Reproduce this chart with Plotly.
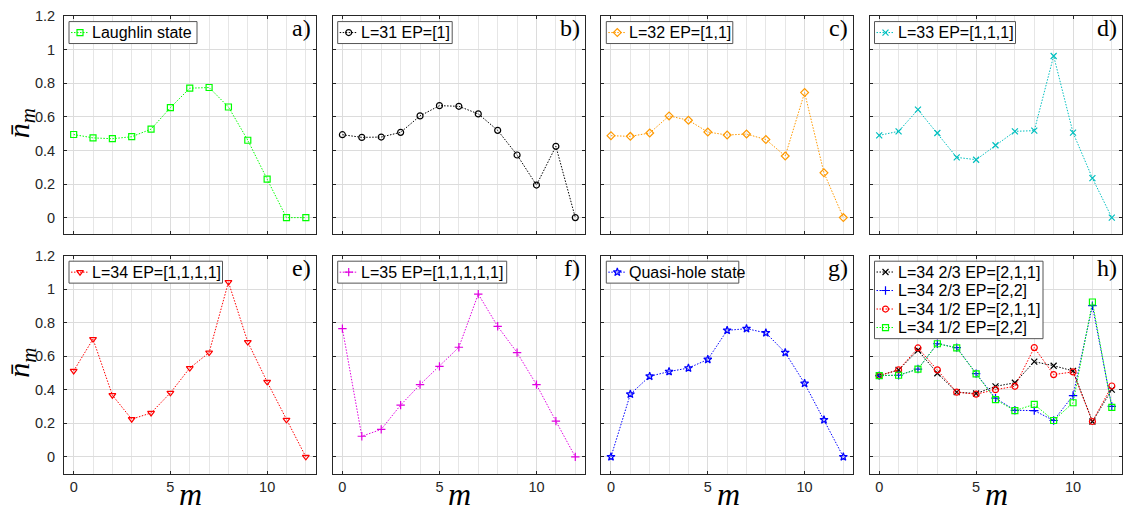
import plotly.graph_objects as go

# orbital index
m = list(range(13))

# mean occupation of each orbital
laughlin = [0.495, 0.475, 0.470, 0.482, 0.527, 0.655, 0.771, 0.775, 0.659, 0.461, 0.229, 0.0, 0.0]
l31_ep1 = [0.494, 0.478, 0.480, 0.508, 0.606, 0.667, 0.663, 0.618, 0.520, 0.373, 0.194, 0.425, 0.0]
l32_ep11 = [0.488, 0.484, 0.504, 0.606, 0.580, 0.510, 0.492, 0.498, 0.465, 0.367, 0.745, 0.267, 0.0]
l33_ep111 = [0.490, 0.514, 0.643, 0.504, 0.359, 0.345, 0.431, 0.514, 0.518, 0.963, 0.506, 0.235, 0.0]
l34_ep1111 = [0.513, 0.703, 0.368, 0.225, 0.262, 0.382, 0.530, 0.622, 1.043, 0.685, 0.448, 0.221, 0.0]
l35_ep11111 = [0.765, 0.123, 0.164, 0.309, 0.431, 0.540, 0.654, 0.971, 0.779, 0.622, 0.431, 0.213, 0.0]
quasi_hole = [0.0, 0.374, 0.481, 0.509, 0.530, 0.581, 0.755, 0.765, 0.740, 0.622, 0.438, 0.221, 0.0]
l34_23_ep211 = [0.485, 0.519, 0.636, 0.499, 0.386, 0.378, 0.421, 0.442, 0.568, 0.544, 0.513, 0.211, 0.401]
l34_23_ep22 = [0.485, 0.487, 0.524, 0.675, 0.652, 0.497, 0.350, 0.278, 0.276, 0.217, 0.366, 0.902, 0.301]
l34_12_ep211 = [0.485, 0.519, 0.650, 0.519, 0.386, 0.374, 0.401, 0.421, 0.652, 0.491, 0.507, 0.211, 0.423]
l34_12_ep22 = [0.485, 0.487, 0.524, 0.675, 0.650, 0.495, 0.342, 0.276, 0.313, 0.217, 0.323, 0.924, 0.295]

y_ticks = [0, 0.2, 0.4, 0.6, 0.8, 1.0, 1.2]
y_tick_text = ["0", "0.2", "0.4", "0.6", "0.8", "1", "1.2"]
x_ticks = [0, 5, 10]
x_tick_text = ["0", "5", "10"]
panel_letters = ["a", "b", "c", "d", "e", "f", "g", "h"]

W, H = 1126, 513
COLS = [(64.0, 315.5), (332.7, 585.0), (601.3, 853.0), (869.5, 1121.5)]
ROWS = [(8.3, 230.0), (251.7, 473.0)]
LEGEND_W = [128, 114.5, 126.5, 141, 153.5, 169, 132.5, 168.5]  # legend box widths, px
ROW_H = 18.8  # legend row pitch, px

AX = "#262626"
GRID = "#dcdcdc"
MINOR_GRID = "#e6e6e6"
SANS = "Liberation Sans, Arial, sans-serif"
SERIF = "Liberation Serif, Times New Roman, serif"
DOT = "1.5px,1.5px"

# (legend label, values, colour, marker symbol) per panel
panels = [
    [("Laughlin state", laughlin, "#00ff00", "square-open")],
    [("L=31 EP=[1]", l31_ep1, "#000000", "circle-open")],
    [("L=32 EP=[1,1]", l32_ep11, "#ff9900", "diamond-open")],
    [("L=33 EP=[1,1,1]", l33_ep111, "#00bfbf", "x-thin-open")],
    [("L=34 EP=[1,1,1,1]", l34_ep1111, "#ff0000", "triangle-down-open")],
    [("L=35 EP=[1,1,1,1,1]", l35_ep11111, "#e000e0", "cross-thin-open")],
    [("Quasi-hole state", quasi_hole, "#0000ff", "star-open")],
    [
        ("L=34 2/3 EP=[2,1,1]", l34_23_ep211, "#000000", "x-thin-open"),
        ("L=34 2/3 EP=[2,2]", l34_23_ep22, "#0000ff", "cross-thin-open"),
        ("L=34 1/2 EP=[2,1,1]", l34_12_ep211, "#ff0000", "circle-open"),
        ("L=34 1/2 EP=[2,2]", l34_12_ep22, "#00ff00", "square-open"),
    ],
]


def px_x(x):
    return x / W


def px_y(y):
    return 1 - y / H


def style(color, symbol):
    return dict(
        line=dict(color=color, width=1, dash=DOT),
        marker=dict(symbol=symbol, size=6, color=color,
                    line=dict(color=color, width=1.2)),
    )


fig = go.Figure()
layout = {}
annotations = []
shapes = []
key_x, key_y, key_c, key_s = [], [], [], []

for i, series in enumerate(panels):
    r, c = divmod(i, 4)
    n = i + 1
    xname = "xaxis" if n == 1 else f"xaxis{n}"
    yname = "yaxis" if n == 1 else f"yaxis{n}"
    xref = "x" if n == 1 else f"x{n}"
    yref = "y" if n == 1 else f"y{n}"
    x0, x1 = COLS[c]
    y0, y1 = ROWS[r]

    layout[xname] = dict(
        domain=[px_x(x0), px_x(x1)], anchor=yref, range=[-0.5, 12.5],
        tickmode="array", tickvals=x_ticks, ticktext=x_tick_text,
        showticklabels=(r == 1), ticks="inside", ticklen=3, tickcolor=AX,
        showline=True, linecolor=AX, linewidth=1, mirror="ticks",
        showgrid=True, gridcolor=GRID, gridwidth=1, zeroline=False,
        minor=dict(tickmode="array", tickvals=m, showgrid=True,
                   gridcolor=MINOR_GRID, gridwidth=1, ticks=""),
        tickfont=dict(family=SANS, size=14.5, color=AX), ticklabelstandoff=0,
    )
    layout[yname] = dict(
        domain=[px_y(y1), px_y(y0)], anchor=xref, range=[-0.1, 1.2],
        tickmode="array", tickvals=y_ticks, ticktext=y_tick_text,
        showticklabels=(c == 0), ticks="inside", ticklen=3, tickcolor=AX,
        showline=True, linecolor=AX, linewidth=1, mirror="ticks",
        showgrid=True, gridcolor=GRID, gridwidth=1, zeroline=False,
        tickfont=dict(family=SANS, size=14.5, color=AX), ticklabelstandoff=5,
    )

    for name, vals, color, symbol in series:
        fig.add_trace(go.Scatter(
            x=m, y=vals, name=name, mode="lines+markers",
            xaxis=xref, yaxis=yref, showlegend=False, **style(color, symbol),
        ))

    # legend box, drawn on the full-figure pixel overlay
    bx0 = x0 + 5
    by0 = y0 + 5.5
    bh = ROW_H * len(series) + 3.5
    shapes.append(dict(
        type="rect", xref="x9", yref="y9", layer="below",
        x0=bx0, x1=bx0 + LEGEND_W[i], y0=by0, y1=by0 + bh,
        fillcolor="white", line=dict(color="#555555", width=1),
    ))
    for k, (name, vals, color, symbol) in enumerate(series):
        cy = by0 + bh / 2 if len(series) == 1 else by0 + 11 + ROW_H * k
        shapes.append(dict(
            type="line", xref="x9", yref="y9", layer="below",
            x0=bx0 + 2, x1=bx0 + 20, y0=cy, y1=cy,
            line=dict(color=color, width=1, dash=DOT),
        ))
        key_x.append(bx0 + 11)
        key_y.append(cy)
        key_c.append(color)
        key_s.append(symbol)
        annotations.append(dict(
            text=name, xref="paper", yref="paper",
            x=px_x(bx0 + 21), y=px_y(cy), xanchor="left", yanchor="middle",
            showarrow=False, font=dict(family=SANS, size=16, color="#000000"),
        ))

    # panel letter
    annotations.append(dict(
        text=f"{panel_letters[i]})", xref="paper", yref="paper",
        x=px_x(x1 - 3), y=px_y(y0 + 12), xanchor="right", yanchor="middle",
        showarrow=False, font=dict(family=SERIF, size=24, color="#000000"),
    ))

# legend key markers on the overlay
fig.add_trace(go.Scatter(
    x=key_x, y=key_y, mode="markers", xaxis="x9", yaxis="y9",
    showlegend=False, hoverinfo="skip",
    marker=dict(symbol=key_s, size=6, color=key_c,
                line=dict(color=key_c, width=1.2)),
))
layout["xaxis9"] = dict(domain=[0, 1], range=[0, W], visible=False,
                        anchor="y9", fixedrange=True)
layout["yaxis9"] = dict(domain=[0, 1], range=[H, 0], visible=False,
                        anchor="x9", fixedrange=True)

# y-axis titles
for (y0, y1) in ROWS:
    annotations.append(dict(
        text="<i>n\u0304</i><sub><i>m</i></sub>", xref="paper", yref="paper",
        x=px_x(21), y=px_y((y0 + y1) / 2 - 2), xanchor="center", yanchor="middle",
        textangle=-90, showarrow=False,
        font=dict(family=SERIF, size=30, color="#000000"),
    ))

# x-axis titles
for (x0, x1) in COLS:
    annotations.append(dict(
        text="<i>m</i>", xref="paper", yref="paper",
        x=px_x((x0 + x1) / 2 + 1), y=px_y(494), xanchor="center", yanchor="middle",
        showarrow=False, font=dict(family=SERIF, size=32, color="#000000"),
    ))

fig.update_layout(
    width=W, height=H, margin=dict(l=0, r=0, t=0, b=0),
    paper_bgcolor="white", plot_bgcolor="rgba(0,0,0,0)",
    showlegend=False, annotations=annotations, shapes=shapes, **layout,
)

fig.write_html("out.html")
